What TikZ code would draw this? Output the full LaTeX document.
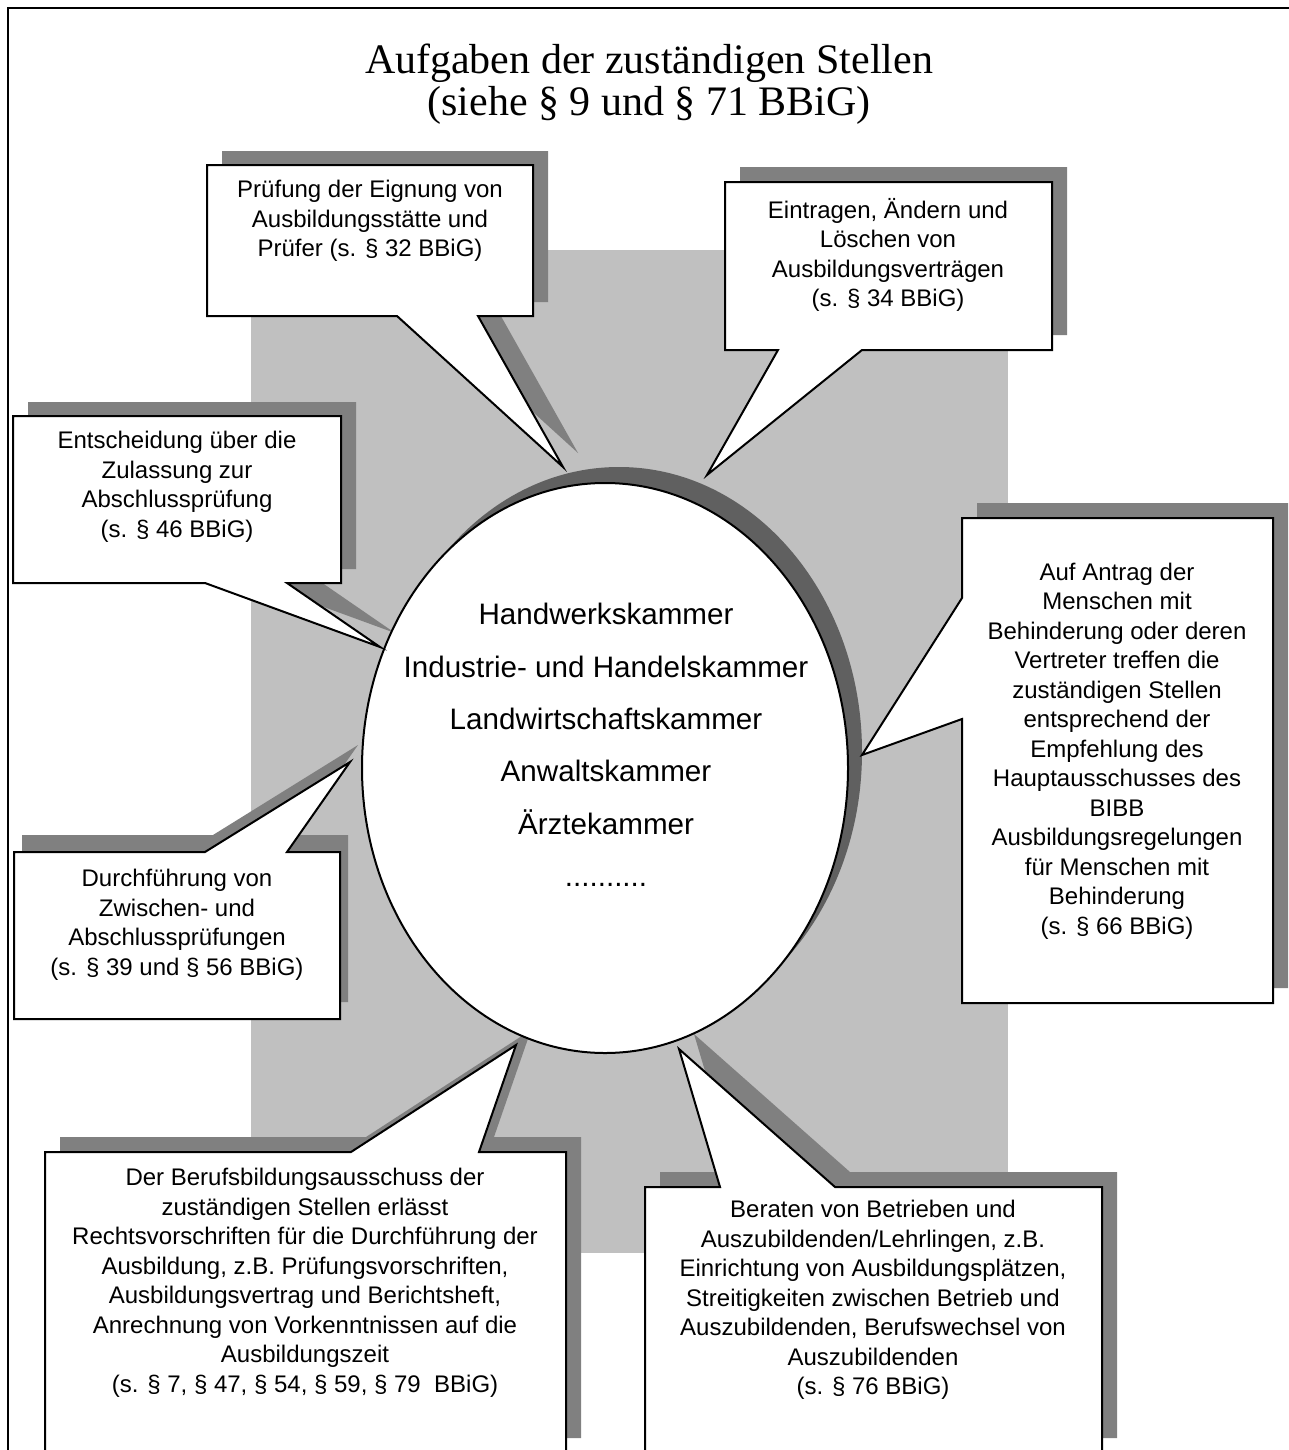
\documentclass[tikz,border=0pt]{standalone}
\usepackage{fontspec}
\setmainfont{Liberation Sans}
\newfontfamily\titlefnt{Liberation Serif}
\definecolor{bggray}{HTML}{C0C0C0}
\definecolor{shgray}{HTML}{808080}
\definecolor{elshadow}{HTML}{606060}
\tikzset{
  callbox/.style={fill=white, draw=black, line width=1pt, line join=miter},
  callshadow/.style={fill=shgray},
  calltext/.style={font=\fontsize{12}{14.75}\selectfont, align=center, inner sep=0pt},
  centertext/.style={font=\fontsize{14.8}{26.2}\selectfont, align=center, inner sep=0pt},
  pathA/.style={insert path={(207,165) -- (533,165) -- (533,316) -- (478,316) -- (563,467) -- (397,316) -- (207,316) -- cycle}},
  pathB/.style={insert path={(725,182) -- (1052,182) -- (1052,350) -- (862,350) -- (707,475) -- (778,350) -- (725,350) -- cycle}},
  pathC/.style={insert path={(13,416) -- (341,416) -- (341,583) -- (287,583) -- (380,647) -- (205,583) -- (13,583) -- cycle}},
  pathD/.style={insert path={(962,518) -- (1273,518) -- (1273,1003) -- (962,1003) -- (962,719) -- (862,755) -- (962,598) -- cycle}},
  pathE/.style={insert path={(14,852) -- (205,852) -- (350,762) -- (287,852) -- (340,852) -- (340,1019) -- (14,1019) -- cycle}},
  pathF/.style={insert path={(45,1152) -- (351,1152) -- (516,1045) -- (479,1152) -- (566,1152) -- (566,1453) -- (45,1453) -- cycle}},
  pathG/.style={insert path={(645,1187) -- (720,1187) -- (679,1049) -- (835,1187) -- (1102,1187) -- (1102,1453) -- (645,1453) -- cycle}},
}
\begin{document}
\begin{tikzpicture}[x=0.5pt,y=-0.5pt]
\useasboundingbox (0,0) rectangle (1289,1450);
\begin{scope}
\clip (0,0) rectangle (1289,1450);
\fill[white] (0,0) rectangle (1289,1450);
% grey background panel
\fill[bggray] (251,250) rectangle (1008,1253);
% callout shadows
\fill[callshadow, shift={(15,-14)}, pathA];
\fill[callshadow, shift={(15,-15)}, pathB];
\fill[callshadow, shift={(15,-14)}, pathC];
\fill[callshadow, shift={(15,-15)}, pathD];
\fill[callshadow, shift={(8,-17)}, pathE];
\fill[callshadow, shift={(15,-15)}, pathF];
\fill[callshadow, shift={(15,-15)}, pathG];
% central ellipse
\fill[elshadow] (619,752) ellipse [x radius=121.5pt, y radius=142.5pt];
\draw[fill=white, line width=1pt] (605,768) ellipse [x radius=121.5pt, y radius=142.5pt];
\node[centertext] (kammern) at (606,745) {Handwerkskammer\\Industrie- und Handelskammer\\Landwirtschaftskammer\\Anwaltskammer\\Ärztekammer\\..........};
% callouts
\draw[callbox, pathA];
\draw[callbox, pathB];
\draw[callbox, pathC];
\draw[callbox, pathD];
\draw[callbox, pathE];
\draw[callbox, pathF];
\draw[callbox, pathG];
\node[calltext] (tA) at (370,221) {Prüfung der Eignung von\\Ausbildungsstätte und\\Prüfer (s. § 32 BBiG)};
\node[calltext] (tB) at (888,255) {Eintragen, Ändern und\\Löschen von\\Ausbildungsverträgen\\(s. § 34 BBiG)};
\node[calltext] (tC) at (177,487) {Entscheidung über die\\Zulassung zur\\Abschlussprüfung\\(s. § 46 BBiG)};
\node[calltext] (tD) at (1117,751) {Auf Antrag der\\Menschen mit\\Behinderung oder deren\\Vertreter treffen die\\zuständigen Stellen\\entsprechend der\\Empfehlung des\\Hauptausschusses des\\BIBB\\Ausbildungsregelungen\\für Menschen mit\\Behinderung\\(s. § 66 BBiG)};
\node[calltext] (tE) at (177,925) {Durchführung von\\Zwischen- und\\Abschlussprüfungen\\(s. § 39 und § 56 BBiG)};
\node[calltext] (tF) at (305,1283) {Der Berufsbildungsausschuss der\\zuständigen Stellen erlässt\\Rechtsvorschriften für die Durchführung der\\Ausbildung, z.B. Prüfungsvorschriften,\\Ausbildungsvertrag und Berichtsheft,\\Anrechnung von Vorkenntnissen auf die\\Ausbildungszeit\\(s. § 7, § 47, § 54, § 59, § 79~ BBiG)};
\node[calltext] (tG) at (873,1300) {Beraten von Betrieben und\\Auszubildenden/Lehrlingen, z.B.\\Einrichtung von Ausbildungsplätzen,\\Streitigkeiten zwischen Betrieb und\\Auszubildenden, Berufswechsel von\\Auszubildenden\\(s. § 76 BBiG)};
% title
\node[font=\titlefnt\fontsize{21}{21}\selectfont, align=center, inner sep=0pt] (title) at (649,84) {Aufgaben der zuständigen Stellen\\(siehe § 9 und § 71 BBiG)};
% frame
\draw[line width=1.3pt] (8,1460) -- (8,8) -- (1300,8);
\end{scope}
\end{tikzpicture}
\end{document}
